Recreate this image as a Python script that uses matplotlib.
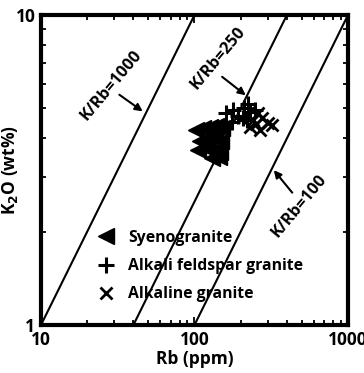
import matplotlib
matplotlib.use("Agg")
import matplotlib.pyplot as plt
import numpy as np
from matplotlib.ticker import LogLocator, NullFormatter, FixedFormatter, FixedLocator

plt.rcParams["font.family"] = ["Open Sans", "DejaVu Sans"]
plt.rcParams["font.weight"] = "bold"

# --- data ---
syeno_rb = [102, 114, 126, 138, 151, 109, 122, 136, 149, 105, 119, 134, 147, 130, 144, 117]
syeno_k2o = [4.26, 4.32, 4.35, 4.38, 4.32, 3.93, 4.01, 4.04, 3.93, 3.67, 3.72, 3.67, 3.61, 3.46, 3.48, 3.89]

afg_rb = [160, 178, 192, 176, 210, 223, 230, 207, 248, 220]
afg_k2o = [4.83, 4.94, 4.72, 4.52, 5.01, 5.16, 4.86, 4.65, 4.94, 4.58]

alk_rb = [259, 301, 230, 240, 275, 320, 267, 252]
alk_k2o = [4.83, 4.48, 4.35, 4.58, 4.65, 4.42, 4.26, 4.45]

# K/Rb reference lines: Rb = K2O * 10000 / ratio
ratios = [1000, 250, 100]
ratio_labels = ["K/Rb=1000", "K/Rb=250", "K/Rb=100"]
label_pos = [(28.5, 5.95), (143, 7.25), (480, 2.42)]
arrow_from = [(31.3, 5.60), (146.5, 6.40), (445, 2.63)]
arrow_to = [(47.6, 4.83), (223, 5.44), (320, 3.21)]

fig = plt.figure(figsize=(3.64, 3.73), dpi=100)
ax = fig.add_axes([0.1126, 0.1287, 0.8434, 0.831])

k_line = np.array([0.5, 20.0])
for r in ratios:
    ax.plot(k_line * 10000 / r, k_line, color="black", lw=1.5, zorder=1)

ax.plot(syeno_rb, syeno_k2o, ls="none", marker="<", ms=11, color="black",
        label="Syenogranite", zorder=3)
ax.plot(afg_rb, afg_k2o, ls="none", marker="+", ms=11, mew=2.2, color="black",
        label="Alkali feldspar granite", zorder=3)
ax.plot(alk_rb, alk_k2o, ls="none", marker="x", ms=9, mew=2, color="black",
        label="Alkaline granite", zorder=3)

ax.set_xscale("log")
ax.set_yscale("log")
ax.set_xlim(10, 1000)
ax.set_ylim(1, 10)

# line labels with arrows
arrow = dict(arrowstyle="-|>", color="black", lw=1.5, mutation_scale=11)
for lab, pos, a0, a1 in zip(ratio_labels, label_pos, arrow_from, arrow_to):
    ax.annotate("", xy=a1, xytext=a0, arrowprops=arrow)
    ax.text(pos[0], pos[1], lab, rotation=50, ha="center", va="center",
            fontsize=11.8, fontweight="bold")

ax.legend(loc="upper left", bbox_to_anchor=(0.185, 0.307), frameon=False,
          prop=dict(size=11.3, weight="bold"), handlelength=1.0,
          handletextpad=0.95, labelspacing=0.78, borderaxespad=0, borderpad=0)

for s in ax.spines.values():
    s.set_linewidth(3)
ax.tick_params(which="both", direction="in", top=True, right=True, width=1.3)
ax.tick_params(which="major", length=6, pad=4)
ax.tick_params(which="minor", length=3.5)
ax.xaxis.set_major_locator(FixedLocator([10, 100, 1000]))
ax.xaxis.set_major_formatter(FixedFormatter(["10", "100", "1000"]))
ax.xaxis.set_minor_locator(LogLocator(base=10, subs=np.arange(2, 10)))
ax.xaxis.set_minor_formatter(NullFormatter())
ax.yaxis.set_major_locator(FixedLocator([1, 10]))
ax.yaxis.set_major_formatter(FixedFormatter(["1", "10"]))
ax.yaxis.set_minor_locator(LogLocator(base=10, subs=np.arange(2, 10)))
ax.yaxis.set_minor_formatter(NullFormatter())
for lab in ax.get_xticklabels() + ax.get_yticklabels():
    lab.set_fontsize(12.5)
    lab.set_fontweight("bold")

ax.set_xlabel("Rb (ppm)", fontsize=12.5, fontweight="bold", labelpad=1)
ax.set_ylabel("K$_2$O (wt%)", fontsize=12.5, fontweight="bold")
ax.yaxis.set_label_coords(-0.068, 0.5)

fig.savefig("out.png", dpi=100)
